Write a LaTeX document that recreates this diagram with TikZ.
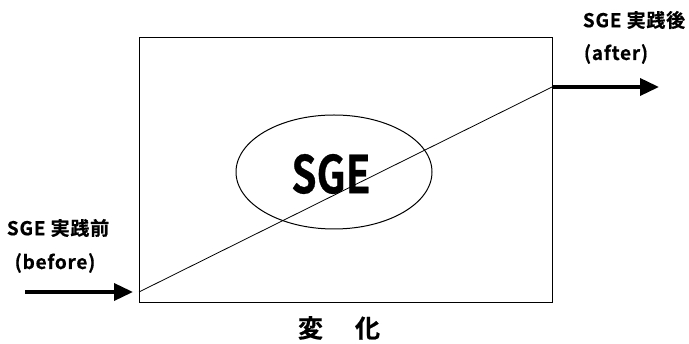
\documentclass[tikz,border=0pt]{standalone}
\usepackage{fontspec}
\setmainfont{Noto Sans CJK JP}[BoldFont={* Bold}]
\newfontfamily\condfont{Noto Sans CJK JP Bold}[FakeStretch=0.78,FakeBold=0.6]
\newfontfamily\cjkbold{Noto Sans CJK JP Bold}[FakeBold=0.6]
\newfontfamily\lblfont{Noto Sans CJK JP Bold}[LetterSpace=4,FakeBold=0.6]
\usetikzlibrary{arrows.meta,shapes.geometric}
\tikzset{
  thin line/.style={line width=1pt},
  bigarrow/.style={line width=3.6pt, -{Triangle[length=19pt,width=17pt]}},
  label text/.style={inner sep=0pt, font=\lblfont\fontsize{19}{21}\selectfont},
}
\begin{document}
\begin{tikzpicture}[x=1pt,y=-1pt]
\useasboundingbox (0,0) rectangle (689,344);
\node[draw, thin line, minimum width=413pt, minimum height=265pt, inner sep=0pt] (box) at (345.5,170.5) {};
\node[draw, ellipse, thin line, minimum width=196pt, minimum height=114pt, inner sep=0pt] (ell) at (334,172) {};
\coordinate (lo) at (139,292);
\coordinate (hi) at (552,87);
\draw[line width=0.8pt] (lo) -- (hi);
\coordinate (lstart) at (25,292);
\coordinate (lend) at (133,292);
\draw[bigarrow] (lstart) -- (lend);
\coordinate (rend) at (659,87);
\draw[bigarrow] (hi) -- (rend);
\node[inner sep=0pt, font=\condfont\fontsize{52}{56}\selectfont] (sge) at (331,174) {SGE};
\node[label text] (after1) at (634,20) {SGE 実践後};
\node[label text] (after2) at (616,54) {(after)};
\node[label text] (before1) at (58,228) {SGE 実践前};
\node[label text] (before2) at (55,263) {(before)};
\node[inner sep=0pt, font=\cjkbold\fontsize{25}{27}\selectfont] (change) at (339,328) {変\hspace{32pt}化};
\end{tikzpicture}
\end{document}
